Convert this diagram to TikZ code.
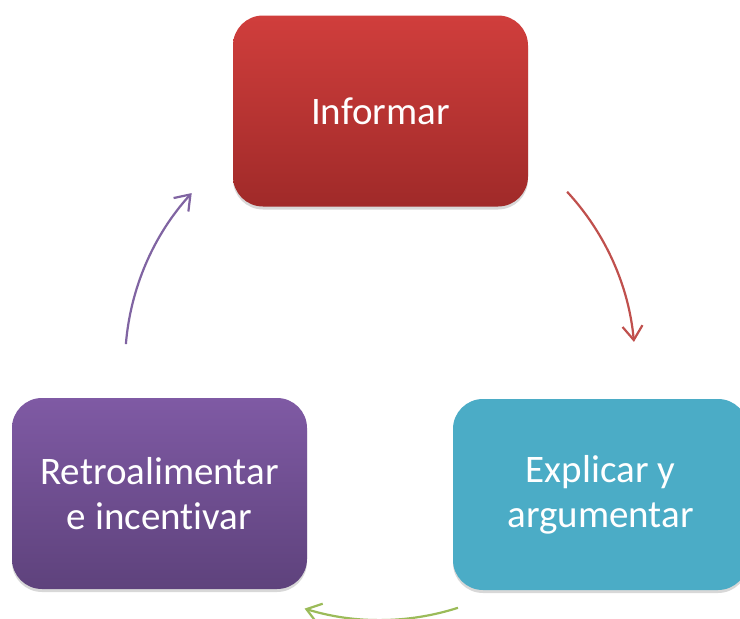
\documentclass[tikz,border=0pt]{standalone}
\usepackage{fontspec}
\setmainfont[Ligatures=NoCommon]{Carlito}
\usetikzlibrary{arrows.meta,shadows,calc}
\definecolor{redtop}{HTML}{D03E3C}
\definecolor{redbot}{HTML}{A02A29}
\definecolor{tealc}{HTML}{4BACC6}
\definecolor{purtop}{HTML}{7F5AA4}
\definecolor{purbot}{HTML}{5E427C}
\definecolor{greenc}{HTML}{9BBB59}
\definecolor{redarr}{HTML}{C0504D}
\definecolor{purarr}{HTML}{8064A2}
\tikzset{
  stepbox/.style={rounded corners=30pt, minimum width=295pt, minimum height=191pt,
    text=white, align=center, font=\fontsize{39}{45}\selectfont, inner sep=0pt,
    drop shadow={opacity=0.3, shadow xshift=0pt, shadow yshift=-3pt}},
  cyc/.style={line width=2.2pt, -{Straight Barb[length=14pt,width=20pt,line width=2.2pt]}}
}
\begin{document}
\begin{tikzpicture}[x=1pt,y=-1pt]
\clip (0,0) rectangle (740,619);
\fill[white] (0,0) rectangle (740,619);
\node[stepbox, top color=redtop, bottom color=redbot] (inf) at (380.5,111) {Informar};
\node[stepbox, fill=tealc] (exp) at (600.5,494.5) {Explicar y\\argumentar};
\node[stepbox, top color=purtop, bottom color=purbot] (ret) at (159.5,493.5) {Retroalimentar\\e incentivar};
\coordinate (c) at (380,365);
\coordinate (r1) at ($(c)+(255*cos 42.8, -255*sin 42.8)$);
\coordinate (g1) at ($(c)+(255*cos -72.2, -255*sin -72.2)$);
\coordinate (p1) at ($(c)+(255*cos 175.3, -255*sin 175.3)$);
\draw[cyc, redarr] (r1) arc[start angle=-42.8, end angle=-5.2, radius=255];
\draw[cyc, greenc] (g1) arc[start angle=72.2, end angle=107.2, radius=255];
\draw[cyc, purarr] (p1) arc[start angle=-175.3, end angle=-137.6, radius=255];
\end{tikzpicture}
\end{document}
